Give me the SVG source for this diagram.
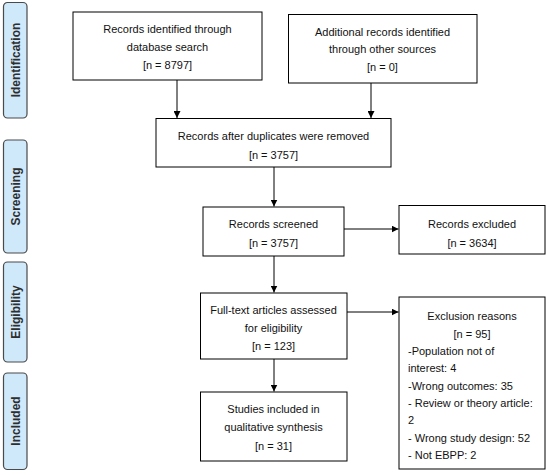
<svg xmlns="http://www.w3.org/2000/svg" width="550" height="475" viewBox="0 0 550 475">
<defs>
<style>
.box{fill:#fff;stroke:#000;stroke-width:1}
.side{fill:#cfe9fb;stroke:#4a4a4a;stroke-width:1.2}
.t{font-family:"Liberation Sans",Arial,sans-serif;font-size:11px;fill:#111;text-anchor:middle}
.l{text-anchor:start}
.st{font-family:"Liberation Sans",Arial,sans-serif;font-size:12px;font-weight:bold;fill:#2e2e2e;text-anchor:middle}
.c{stroke:#000;stroke-width:1;fill:none;marker-end:url(#ah)}
</style>
<marker id="ah" viewBox="0 0 8 8" refX="8" refY="4" markerWidth="7" markerHeight="7" markerUnits="userSpaceOnUse" orient="auto">
<path d="M0,0 L8,4 L0,8 Z" fill="#000"/>
</marker>
</defs>
<rect width="550" height="475" fill="#fff"/>
<g id="stage-identification">
<rect class="side" x="3.5" y="2.5" width="23.5" height="115.5" rx="4"/>
<text class="st" transform="translate(19.5,60) rotate(-90)">Identification</text>
</g>
<g id="stage-screening">
<rect class="side" x="3.5" y="140" width="23.5" height="113" rx="4"/>
<text class="st" transform="translate(19.5,196.5) rotate(-90)">Screening</text>
</g>
<g id="stage-eligibility">
<rect class="side" x="3.5" y="262" width="23.5" height="100" rx="4"/>
<text class="st" transform="translate(19.5,312) rotate(-90)">Eligibility</text>
</g>
<g id="stage-included">
<rect class="side" x="3.5" y="373" width="23.5" height="96.5" rx="4"/>
<text class="st" transform="translate(19.5,421) rotate(-90)">Included</text>
</g>
<g id="connectors">
<path class="c" d="M177,80 V118"/>
<path class="c" d="M371,83 V118"/>
<path class="c" d="M274,167 V206.5"/>
<path class="c" d="M344,229 H398.5"/>
<path class="c" d="M274,256 V292.5"/>
<path class="c" d="M347,312 H398.5"/>
<path class="c" d="M274,359 V391.5"/>
</g>
<g id="n1">
<rect class="box" x="73" y="12" width="189" height="68"/>
<text class="t" x="167.5" y="32.5">Records identified through</text>
<text class="t" x="167.5" y="50.5">database search</text>
<text class="t" x="167.5" y="68.5">[n = 8797]</text>
</g>
<g id="n2">
<rect class="box" x="288.5" y="14.5" width="188.5" height="68.5"/>
<text class="t" x="382.5" y="35.5">Additional records identified</text>
<text class="t" x="382.5" y="53">through other sources</text>
<text class="t" x="382.5" y="70.5">[n = 0]</text>
</g>
<g id="n3">
<rect class="box" x="156" y="118.5" width="235" height="48.5"/>
<text class="t" x="273.5" y="140">Records after duplicates were removed</text>
<text class="t" x="273.5" y="158.5">[n = 3757]</text>
</g>
<g id="n4">
<rect class="box" x="203" y="207" width="141" height="49"/>
<text class="t" x="273.5" y="228">Records screened</text>
<text class="t" x="273.5" y="246.5">[n = 3757]</text>
</g>
<g id="n5">
<rect class="box" x="399" y="205.5" width="146" height="48.5"/>
<text class="t" x="472" y="228">Records excluded</text>
<text class="t" x="472" y="246.5">[n = 3634]</text>
</g>
<g id="n6">
<rect class="box" x="200.5" y="293" width="146.5" height="66"/>
<text class="t" x="273.5" y="314">Full-text articles assessed</text>
<text class="t" x="273.5" y="332">for eligibility</text>
<text class="t" x="273.5" y="350">[n = 123]</text>
</g>
<g id="n7">
<rect class="box" x="399" y="297" width="146" height="172"/>
<text class="t" x="472" y="320">Exclusion reasons</text>
<text class="t" x="472" y="337.5">[n = 95]</text>
<text class="t l" x="408" y="354.5">-Population not of</text>
<text class="t l" x="408" y="372">interest: 4</text>
<text class="t l" x="408" y="389.5">-Wrong outcomes: 35</text>
<text class="t l" x="408" y="406.5">- Review or theory article:</text>
<text class="t l" x="408" y="424">2</text>
<text class="t l" x="408" y="441.5">- Wrong study design: 52</text>
<text class="t l" x="408" y="459">- Not EBPP: 2</text>
</g>
<g id="n8">
<rect class="box" x="200.5" y="392" width="146.5" height="69"/>
<text class="t" x="273.5" y="412.5">Studies included in</text>
<text class="t" x="273.5" y="431">qualitative synthesis</text>
<text class="t" x="273.5" y="449.5">[n = 31]</text>
</g>
</svg>
